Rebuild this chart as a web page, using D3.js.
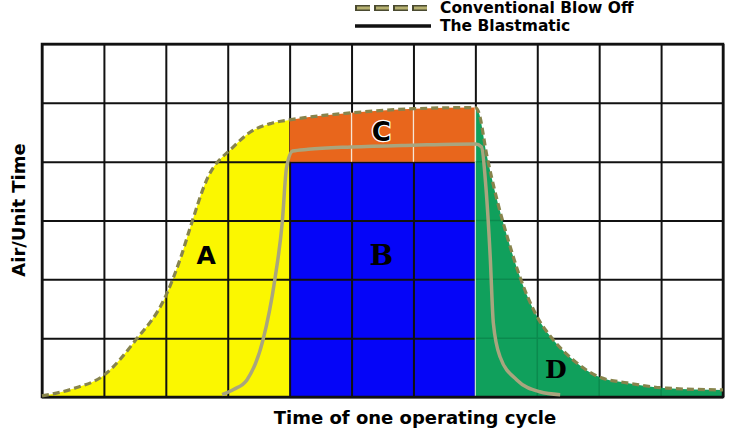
<!DOCTYPE html>
<html><head><meta charset="utf-8">
<script src="https://cdn.jsdelivr.net/npm/d3@7"></script>
<style>
html,body{margin:0;padding:0;background:#fff;}
svg{display:block;}
text{font-family:"DejaVu Sans",Verdana,sans-serif;font-weight:bold;}
</style></head>
<body>
<svg id="chart" width="740" height="428"></svg>
<script>
// ---- data ----
const xTicks = [0,1,2,3,4,5,6,7,8,9,10,11];
const yTicks = [0,1,2,3,4,5,6];
const convX = [0, 0.5, 1.0, 1.5, 2.0, 2.25, 2.4, 2.66, 3.09, 3.36, 3.7, 4.0, 5.0, 6.0, 7.0, 7.05, 7.19, 7.35, 7.53, 7.72, 8.0, 8.26, 8.58, 9.0, 9.45, 10.1, 11];
const convY = [0.02, 0.14, 0.37, 0.95, 1.72, 2.4, 2.9, 3.69, 4.25, 4.5, 4.65, 4.71, 4.83, 4.9, 4.92, 4.85, 4.08, 3.35, 2.67, 2.04, 1.36, 0.97, 0.63, 0.34, 0.24, 0.15, 0.12];
const blastX = [2.91, 3.1, 3.31, 3.57, 3.76, 3.88, 3.95, 4.05, 4.3, 5, 6, 7, 7.1, 7.17, 7.24, 7.29, 7.4, 7.67, 8.04, 8.37];
const blastY = [0.04, 0.13, 0.29, 0.97, 1.99, 2.96, 3.9, 4.18, 4.21, 4.25, 4.28, 4.3, 4.25, 3.57, 2.38, 1.26, 0.68, 0.29, 0.09, 0.04];
const zones = [
  {name:"A", x0:0, x1:4, yTop:6, color:"#fbf700"},
  {name:"C", x0:4, x1:7, yTop:6, yBot:4, color:"#e8661c"},
  {name:"D", x0:7, x1:11, yTop:6, color:"#10a05c"}
];
const blueZone = {name:"B", x0:4, x1:7, y0:0, y1:4, color:"#0505f8"};
const labels = [
  {t:"A", x:2.65, y:2.4, font:"DejaVu Sans", size:25},
  {t:"B", x:5.48, y:2.4, font:"DejaVu Serif", size:28},
  {t:"C", x:5.48, y:4.5, font:"DejaVu Sans", size:26},
  {t:"D", x:8.3, y:0.47, font:"DejaVu Serif", size:25}
];
const legendItems = ["Conventional Blow Off", "The Blastmatic"];
const xTitle = "Time of one operating cycle";
const yTitle = "Air/Unit Time";

// ---- layout ----
const svg = d3.select("#chart");
const L = 42, R = 723, T = 44, B = 397;
const x = d3.scaleLinear().domain([0,11]).range([L,R]);
const y = d3.scaleLinear().domain([0,6]).range([B,T]);
const conv = convX.map((v,i)=>[v, convY[i]]);
const blast = blastX.map((v,i)=>[v, blastY[i]]);

const defs = svg.append("defs");
zones.forEach((z,i)=>{
  const yb = z.yBot === undefined ? B : y(z.yBot);
  defs.append("clipPath").attr("id","clip"+i)
    .append("rect").attr("x", x(z.x0)).attr("y", T).attr("width", x(z.x1)-x(z.x0)).attr("height", yb-T);
});

const area = d3.area().x(d=>x(d[0])).y0(y(0)).y1(d=>y(d[1])).curve(d3.curveMonotoneX);
const line = d3.line().x(d=>x(d[0])).y(d=>y(d[1])).curve(d3.curveMonotoneX);

// yellow zone and blue block under grid
svg.append("path").attr("d", area(conv)).attr("fill", zones[0].color).attr("clip-path","url(#clip0)");
svg.append("rect").attr("x", x(blueZone.x0)).attr("y", y(blueZone.y1))
  .attr("width", x(blueZone.x1)-x(blueZone.x0)).attr("height", y(blueZone.y0)-y(blueZone.y1))
  .attr("fill", blueZone.color);

// grid
const grid = svg.append("g");
grid.append("g").attr("transform",`translate(0,${B})`)
  .call(d3.axisBottom(x).tickValues(xTicks).tickSize(-(B-T)).tickFormat(""))
  .call(g=>{g.select(".domain").remove(); g.selectAll("line").attr("stroke","#111").attr("stroke-width",2);});
grid.append("g").attr("transform",`translate(${L},0)`)
  .call(d3.axisLeft(y).tickValues(yTicks).tickSize(-(R-L)).tickFormat(""))
  .call(g=>{g.select(".domain").remove(); g.selectAll("line").attr("stroke","#111").attr("stroke-width",2);});

// orange and green zones over grid
svg.append("path").attr("d", area(conv)).attr("fill", zones[1].color).attr("clip-path","url(#clip1)");
svg.append("path").attr("d", area(conv)).attr("fill", zones[2].color).attr("clip-path","url(#clip2)");
// faint grid inside orange / green
svg.append("clipPath").attr("id","clipArea").append("path").attr("d", area(conv));
const gg = svg.append("g").attr("clip-path","url(#clipArea)");
[5,6].forEach(v=>gg.append("line").attr("x1",x(v)).attr("x2",x(v)).attr("y1",y(4)).attr("y2",T)
  .attr("stroke","#f6e6d6").attr("stroke-width",1.3));
[8,9,10].forEach(v=>gg.append("line").attr("x1",x(v)).attr("x2",x(v)).attr("y1",B).attr("y2",T).attr("stroke","#0b8a4e").attr("stroke-width",1.5));
[1,2,3,4].forEach(v=>gg.append("line").attr("x1",x(7)).attr("x2",R).attr("y1",y(v)).attr("y2",y(v)).attr("stroke","#0b8a4e").attr("stroke-width",1.5));
gg.append("line").attr("x1",x(7)).attr("x2",x(7)).attr("y1",y(4)).attr("y2",T).attr("stroke","#e8f0e0").attr("stroke-width",1.5);
gg.append("line").attr("x1",x(7)).attr("x2",x(7)).attr("y1",B).attr("y2",y(4)).attr("stroke","#c8e8d0").attr("stroke-width",1.2);

// frame
svg.append("rect").attr("x",L).attr("y",T).attr("width",R-L).attr("height",B-T)
  .attr("fill","none").attr("stroke","#111").attr("stroke-width",2.5);

// curves
svg.append("path").attr("d", line(blast)).attr("fill","none").attr("stroke","#a9a57e").attr("stroke-width",3.5);
svg.append("path").attr("d", line(conv)).attr("fill","none").attr("stroke","#87844c").attr("stroke-width",3.2)
  .attr("stroke-dasharray","7,4");

// zone labels
labels.forEach(l=>{
  const t = svg.append("text").attr("x", x(l.x)).attr("y", y(l.y)).attr("text-anchor","middle")
    .attr("dominant-baseline","central").style("font-family", l.font).style("font-size", l.size+"px")
    .attr("fill","#000").text(l.t);
  if (l.t==="C") t.attr("stroke","#fff").attr("stroke-width",2.5).attr("paint-order","stroke");
});

// legend
const lg = svg.append("g");
lg.append("line").attr("x1",355).attr("x2",431).attr("y1",8).attr("y2",8)
  .attr("stroke","#4a4a30").attr("stroke-width",6).attr("stroke-dasharray","15,4");
lg.append("line").attr("x1",356).attr("x2",430).attr("y1",8).attr("y2",8)
  .attr("stroke","#b5b070").attr("stroke-width",3).attr("stroke-dasharray","13,6").attr("stroke-dashoffset",-1);
lg.append("line").attr("x1",355).attr("x2",431).attr("y1",26).attr("y2",26)
  .attr("stroke","#111").attr("stroke-width",3.5);
lg.selectAll("text.leg").data(legendItems).join("text").attr("class","leg")
  .attr("x",440).attr("y",(d,i)=>13+i*18).style("font-size","15.5px").attr("fill","#000").text(d=>d);

// axis titles
svg.append("text").attr("x", 415).attr("y", 424).attr("text-anchor","middle")
  .style("font-size","18px").attr("fill","#000").text(xTitle);
svg.append("text").attr("transform","translate(25,210) rotate(-90)").attr("text-anchor","middle")
  .style("font-size","18px").attr("fill","#000").text(yTitle);
</script>
</body></html>
